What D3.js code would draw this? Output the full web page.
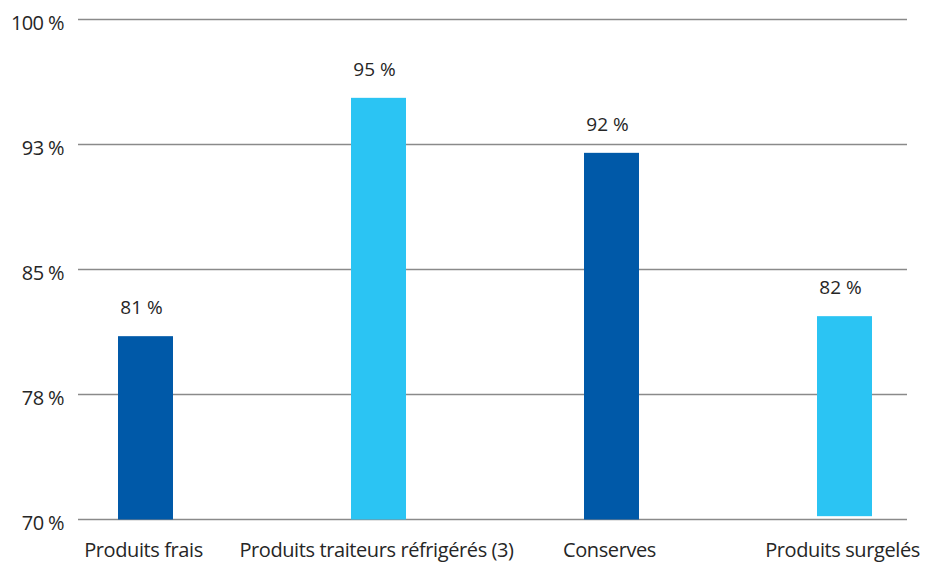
<!DOCTYPE html>
<html><head><meta charset="utf-8">
<script src="https://cdn.jsdelivr.net/npm/d3@7"></script>
<style>body{margin:0;background:#fff}svg{display:block}text{font-family:"Open Sans",sans-serif;fill:#262626}</style>
</head><body><svg id="c" width="928" height="563"></svg>
<script>
const categories = ["Produits frais","Produits traiteurs réfrigérés (3)","Conserves","Produits surgelés"];
const values = [81, 95.3, 92, 82.2];
const barBase = [70, 70, 70, 70.2];
const valueLabels = ["81 %","95 %","92 %","82 %"];
const tickValues = [70, 77.5, 85, 92.5, 100];
const tickLabels = ["70 %","78 %","85 %","93 %","100 %"];
const colors = ["#0059A8","#2BC4F3","#0059A8","#2BC4F3"];

const svg = d3.select("#c");
const y = d3.scaleLinear().domain([70,100]).range([519.5,19.5]);
const x = d3.scaleBand().domain(categories).range([29,961]).paddingInner(0.764).paddingOuter(0.382);

svg.append("g").selectAll("line").data(tickValues).join("line")
  .attr("x1",78).attr("x2",907)
  .attr("y1",d=>y(d)).attr("y2",d=>y(d))
  .attr("stroke","#8a8a8a").attr("stroke-width",1.5);

svg.append("g").selectAll("text").data(tickValues).join("text")
  .attr("x",64).attr("y",d=>y(d)+10).attr("text-anchor","end")
  .attr("font-size",20).attr("letter-spacing","-0.6")
  .text((d,i)=>tickLabels[i]);

svg.append("g").selectAll("rect").data(values).join("rect")
  .attr("x",(d,i)=>x(categories[i])).attr("width",x.bandwidth())
  .attr("y",d=>y(d)).attr("height",(d,i)=>y(barBase[i])-y(d))
  .attr("fill",(d,i)=>colors[i]);

svg.append("g").selectAll("text").data(values).join("text")
  .attr("x",(d,i)=>x(categories[i])+x.bandwidth()/2-4)
  .attr("y",d=>y(d)-22).attr("text-anchor","middle")
  .attr("font-size",19)
  .text((d,i)=>valueLabels[i]);

svg.append("g").selectAll("text").data(categories).join("text")
  .attr("x",d=>x(d)+x.bandwidth()/2-2).attr("y",557).attr("text-anchor","middle")
  .attr("font-size",20).attr("letter-spacing","-0.4")
  .text(d=>d);
</script></body></html>
